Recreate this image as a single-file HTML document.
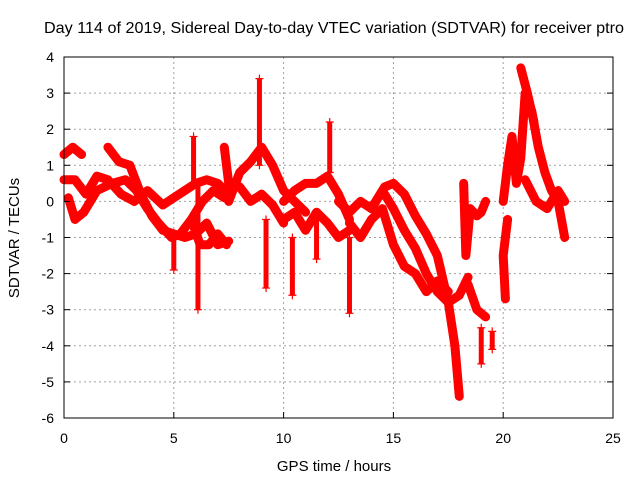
<!DOCTYPE html>
<html><head><meta charset="utf-8"><style>
body{margin:0;background:#fff;}
svg text{font-family:"Liberation Sans",sans-serif;fill:#000;}
</style></head><body>
<svg id="chart" width="640" height="480" viewBox="0 0 640 480" xmlns="http://www.w3.org/2000/svg">
<text x="334" y="33" font-size="16" text-anchor="middle" textLength="580" lengthAdjust="spacingAndGlyphs">Day 114 of 2019, Sidereal Day-to-day VTEC variation (SDTVAR) for receiver ptro</text>
<g id="grid"></g>
<g id="marks"></g>
<rect x="64" y="57" width="549" height="361" fill="none" stroke="#000" stroke-width="1"/>
<g id="ticks"></g>
<text x="334" y="471" font-size="15" text-anchor="middle">GPS time / hours</text>
<text x="19" y="238" font-size="15" text-anchor="middle" transform="rotate(-90 19 238)">SDTVAR / TECUs</text>
</svg>
<script>
const xTicks=[0,5,10,15,20,25];
const yTicks=[4,3,2,1,0,-1,-2,-3,-4,-5,-6];
const track1=[[0,1.3],[0.4,1.5],[0.8,1.3]];
const track2=[[0,0.6],[0.5,0.6],[1.0,0.2],[1.5,0.7],[2.0,0.6],[2.6,0.2],[3.2,0.0],[3.8,0.3],[4.5,-0.1],[5.0,0.1],[5.5,0.3],[6.0,0.5],[6.5,0.6],[7.0,0.5],[7.5,0.2]];
const track3=[[0.2,0.1],[0.5,-0.5],[0.9,-0.3],[1.5,0.3],[2.2,0.5],[2.8,0.6],[3.3,0.3],[3.8,-0.2],[4.3,-0.6],[4.9,-1.0],[5.3,-0.9],[5.8,-0.5],[6.3,0.0],[6.8,0.3],[7.3,0.1]];
const track4=[[2.0,1.5],[2.5,1.1],[3.0,1.0],[3.5,0.2],[4.0,-0.4],[4.5,-0.8],[5.0,-0.9],[5.5,-1.0],[6.0,-0.9],[6.5,-0.6],[7.0,-1.2],[7.5,-1.1]];
const track5=[[5.8,-0.5],[6.2,-1.2],[6.6,-1.2],[7.0,-0.9],[7.4,-1.2]];
const track6=[[7.5,0.0],[8.0,0.8],[8.5,1.1],[9.0,1.5],[9.5,1.0],[10.0,0.3],[10.5,0.0],[11.0,-0.3]];
const track7=[[7.3,1.5],[7.5,0.5],[8.0,0.4],[8.5,0.0],[9.0,0.2],[9.5,-0.1],[10.0,-0.6]];
const track8=[[10.0,0.0],[10.5,0.3],[11.0,0.5],[11.5,0.5],[12.0,0.7],[12.5,0.2],[13.0,-0.5]];
const track9=[[10.0,-0.5],[10.5,-0.3],[11.0,-0.8],[11.5,-0.3],[12.0,-0.6],[12.5,-1.0],[13.0,-0.8]];
const track10=[[12.5,0.0],[13.0,-0.3],[13.5,0.0],[14.0,-0.2],[14.5,0.3],[15.0,-0.2],[15.5,-0.8],[16.0,-1.3],[16.5,-2.0],[17.0,-2.5],[17.5,-2.8],[18.0,-2.6],[18.4,-2.1]];
const track11=[[13.0,-0.6],[13.5,-1.0],[14.0,-0.5],[14.5,-0.2],[15.0,-1.2],[15.5,-1.8],[16.0,-2.0],[16.5,-2.5],[17.0,-2.2],[17.5,-2.5]];
const track12=[[14.0,-0.2],[14.6,0.4],[15.0,0.5],[15.5,0.2],[16.0,-0.4],[16.5,-0.9],[17.0,-1.5],[17.5,-2.8],[17.8,-4.0],[18.0,-5.4]];
const track13=[[18.2,0.5],[18.3,-1.5],[18.5,-0.2],[18.8,-0.4],[19.0,-0.3],[19.2,0.0]];
const track14=[[18.4,-2.3],[18.8,-3.0],[19.2,-3.2]];
const track15=[[20.0,0.0],[20.2,1.0],[20.4,1.8],[20.6,0.5],[20.8,1.2],[21.0,3.0],[21.3,2.5],[21.6,1.5],[21.9,0.8],[22.2,0.3],[22.5,0.0],[22.8,-1.0]];
const track16=[[20.2,-0.5],[20.0,-1.5],[20.1,-2.7]];
const track17=[[21.0,0.6],[21.5,0.0],[22.0,-0.2],[22.5,0.3],[22.8,0.0]];
const track18=[[20.8,3.7],[21.1,3.0],[21.4,2.2]];
const spikes=[[5.0,-1.0],[5.0,-1.9],[5.9,1.8],[5.9,0.5],[6.1,0.5],[6.1,-3.0],[8.9,3.4],[8.9,1.0],[9.2,-0.5],[9.2,-2.4],[10.4,-1.0],[10.4,-2.6],[11.5,-0.5],[11.5,-1.6],[12.1,2.2],[12.1,0.8],[13.0,-1.0],[13.0,-3.1],[19.0,-3.5],[19.0,-4.5],[19.5,-3.6],[19.5,-4.1]];
const tracks=[track1,track2,track3,track4,track5,track6,track7,track8,track9,track10,track11,track12,track13,track14,track15,track16,track17,track18];
const NS="http://www.w3.org/2000/svg";
const X=h=>64+h*549/25;
const Y=v=>57+(4-v)*361/10;
const grid=document.getElementById('grid'),ticks=document.getElementById('ticks'),marks=document.getElementById('marks');
function mk(tag,attrs,parent){const e=document.createElementNS(NS,tag);for(const k in attrs)e.setAttribute(k,attrs[k]);parent.appendChild(e);return e;}
xTicks.forEach(t=>{
 if(t>0&&t<25){const g=mk('line',{x1:X(t),x2:X(t),y1:57,y2:418,stroke:'#a0a0a0','stroke-dasharray':'2 3'},grid);
 
 }
 const a=mk('line',{x1:X(t),x2:X(t),y1:418,y2:412,stroke:'#000'},ticks);
 
 
 const l=mk('text',{x:X(t),y:443,'font-size':14,'text-anchor':'middle'},ticks);l.textContent=t;
 
 
});
yTicks.forEach(t=>{
 if(t<4&&t>-6){const g=mk('line',{x1:64,x2:613,y1:Y(t),y2:Y(t),stroke:'#a0a0a0','stroke-dasharray':'2 3'},grid);
 
 }
 const a=mk('line',{x1:64,x2:70,y1:Y(t),y2:Y(t),stroke:'#000'},ticks);
 
 
 const b=mk('line',{x1:607,x2:613,y1:Y(t),y2:Y(t),stroke:'#000'},ticks);
 
 
 const l=mk('text',{x:54,y:Y(t)+5,'font-size':14,'text-anchor':'end'},ticks);l.textContent=t;
 
 
});
function plus(h,v){
 const p=mk('path',{d:`M${X(h)-4},${Y(v)}h8M${X(h)},${Y(v)-4}v8`,stroke:'#f00','stroke-width':1.2},marks);
 
 
}
tracks.forEach(tr=>{
 const pl=mk('polyline',{points:tr.map(p=>X(p[0])+','+Y(p[1])).join(' '),fill:'none',stroke:'#f00','stroke-width':9,'stroke-linejoin':'round','stroke-linecap':'round'},marks);
 
 
 tr.forEach(p=>plus(p[0],p[1]));
});
for(let i=0;i<spikes.length;i+=2){
 const a=spikes[i],b=spikes[i+1];
 const s=mk('line',{x1:X(a[0]),y1:Y(a[1]),x2:X(b[0]),y2:Y(b[1]),stroke:'#f00','stroke-width':5},marks);
 
 
 plus(a[0],a[1]);plus(b[0],b[1]);
}
</script>
</body></html>
